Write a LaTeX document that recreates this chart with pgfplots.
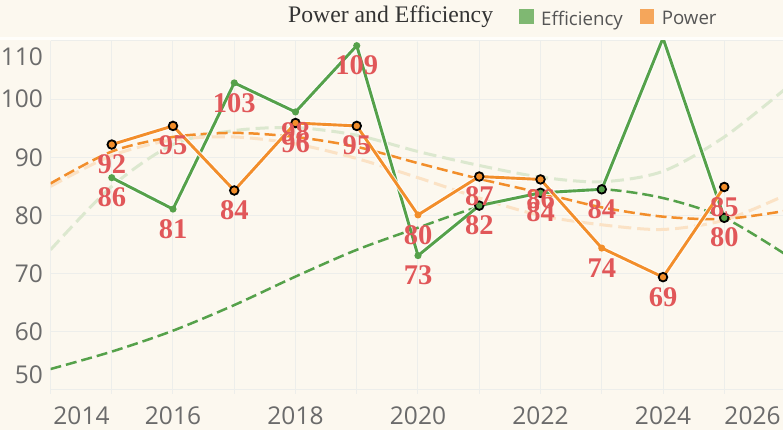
\documentclass[border=0pt]{standalone}
\usepackage{pgfplots}
\usepackage{pgfplotstable}
\pgfplotsset{compat=1.18}
\usepackage{fontspec}
\setmainfont{Liberation Serif}
\newfontfamily\sansf{Open Sans}

\definecolor{bg}{HTML}{FCF8EF}
\definecolor{stripc}{HTML}{FFFEFB}
\definecolor{gridc}{HTML}{EDEEEB}
\definecolor{effc}{HTML}{55A14A}
\definecolor{powc}{HTML}{F28E2B}
\definecolor{efflight}{HTML}{DCE8CF}
\definecolor{powlight}{HTML}{FBE2C5}
\definecolor{labc}{HTML}{E15759}
\definecolor{tickc}{HTML}{6B6B6B}
\definecolor{titlec}{HTML}{333333}
\definecolor{legtc}{HTML}{555555}
\definecolor{leggreen}{HTML}{7FB872}
\definecolor{legorange}{HTML}{F5A65B}

\newcommand\ticklabfont{\sansf\fontsize{24.5}{24.5}\selectfont}
\newcommand\legfont{\sansf\fontsize{18.7}{18.7}\selectfont}
\newcommand\labfont{\bfseries\fontsize{28.5}{28.5}\selectfont}
\newcommand\titfont{\fontsize{23.7}{24}\selectfont}

\pgfplotstableread{
x y lab
2015 86.5 86
2016 81.1 81
2017 102.8 103
2018 97.8 98
2019 109.2 109
2020 73.1 73
2021 81.7 82
2022 83.9 84
2023 84.5 84
2024 110.5 110
2025 79.6 80
}\effdata

\pgfplotstableread{
x y lab
2015 92.2 92
2016 95.4 95
2017 84.3 84
2018 95.9 96
2019 95.4 95
2020 80.1 80
2021 86.7 87
2022 86.2 86
2023 74.4 74
2024 69.4 69
2025 84.9 85
}\powdata

\pgfplotstableread{
x y
2021 81.7
2022 83.9
2023 84.5
2025 79.6
}\effcirc

\pgfplotstableread{
x y
2015 92.2
2016 95.4
2017 84.3
2018 95.9
2019 95.4
2021 86.7
2022 86.2
2024 69.4
2025 84.9
}\powcirc

\pgfplotstableread{
x y
2014 53.6
2015 56.6
2016 60.2
2017 64.6
2018 69.5
2019 74.1
2020 77.9
2021 81.5
2022 83.7
2023 84.5
2024 83.0
2025 79.6
2026 73.3
}\efftrend

\pgfplotstableread{
x y
2014 74.1
2015 85.0
2016 92.2
2017 94.6
2018 95.1
2019 93.8
2020 91.0
2021 88.6
2022 86.6
2023 85.8
2024 87.6
2025 93.5
2026 101.8
}\effloess

\pgfplotstableread{
x y
2014 85.5
2015 91.0
2016 93.5
2017 94.2
2018 93.5
2019 91.8
2020 89.0
2021 86.3
2022 83.9
2023 81.4
2024 79.8
2025 79.4
2026 80.8
}\powtrend

\pgfplotstableread{
x y
2014 85.0
2015 90.3
2016 93.0
2017 93.5
2018 92.3
2019 89.8
2020 86.5
2021 83.0
2022 80.0
2023 78.4
2024 77.6
2025 79.2
2026 83.5
}\powloess

\begin{document}
\begin{tikzpicture}
\useasboundingbox (0pt,0pt) rectangle (783pt,430pt);
\fill[bg] (0pt,0pt) rectangle (783pt,430pt);
\fill[stripc] (0pt,389.5pt) rectangle (783pt,392.5pt);
\begin{axis}[
  at={(50.5pt,40pt)}, anchor=south west,
  scale only axis, width=735pt, height=349pt,
  xmin=2014, xmax=2026, ymin=50, ymax=110,
  axis line style={draw=none},
  xtick={2014,2015,...,2026},
  xticklabels={\hspace*{62pt}2014,,2016,,2018,,2020,,2022,,2024,,2026\hspace*{66pt}},
  ytick={50,60,...,110},
  yticklabels={\raisebox{0pt}[\height][31.6pt]{50},60,70,80,90,100,\raisebox{0pt}[49.5pt][0pt]{110}},
  tick pos=left,
  tick align=outside,
  major tick length=4pt,
  xtick style={draw=gridc, line width=1pt},
  ytick style={draw=none},
  xmajorgrids, ymajorgrids,
  major grid style={draw=gridc, line width=1pt},
  xticklabel style={font=\ticklabfont, text=tickc, inner sep=0pt, anchor=north, yshift=-13pt},
  yticklabel style={font=\ticklabfont, text=tickc, inner sep=0pt, anchor=east, xshift=-3.5pt},
  legend columns=2,
  legend cell align=left,
  legend style={at={(0.6374,1.0663)}, anchor=west, draw=none, fill=none,
    inner sep=0pt, font=\legfont, text=legtc,
    nodes={inner sep=0pt},
    /tikz/every odd column/.append style={column sep=8pt},
    /tikz/every even column/.append style={column sep=17pt}},
  clip=true,
]
\addlegendimage{legend image code/.code={\fill[leggreen] (0pt,-4.3pt) rectangle (13.5pt,9.4pt);}}
\addlegendentry{Efficiency}
\addlegendimage{legend image code/.code={\fill[legorange] (0pt,-4.3pt) rectangle (13.5pt,9.4pt);}}
\addlegendentry{Power}

% trend curves
\addplot[efflight, line width=3pt, dash pattern=on 13pt off 6pt, smooth, no markers] table[x=x,y=y] {\effloess};
\addplot[powlight, line width=3pt, dash pattern=on 13pt off 6pt, smooth, no markers] table[x=x,y=y] {\powloess};
\addplot[powc, line width=2.5pt, dash pattern=on 11pt off 5pt, smooth, no markers] table[x=x,y=y] {\powtrend};
\addplot[effc, line width=2.5pt, dash pattern=on 11pt off 5pt, smooth, no markers] table[x=x,y=y] {\efftrend};

% data lines
\addplot[white, opacity=0.85, line width=5pt, no markers] table[x=x,y=y] {\effdata};
\addplot[effc, line width=2.9pt, mark=*, mark size=2pt, mark options={draw=none, fill=effc}] table[x=x,y=y] {\effdata};
\addplot[white, opacity=0.85, line width=5pt, no markers] table[x=x,y=y] {\powdata};
\addplot[powc, line width=2.9pt, mark=*, mark size=2pt, mark options={draw=none, fill=powc}] table[x=x,y=y] {\powdata};

% highlighted points
\addplot[only marks, mark=*, mark size=4.3pt, mark options={draw=black, line width=1.8pt, fill=effc}] table[x=x,y=y] {\effcirc};
\addplot[only marks, mark=*, mark size=4.3pt, mark options={draw=black, line width=1.8pt, fill=powc}] table[x=x,y=y] {\powcirc};

% labels
\addplot[draw=none, mark=none, nodes near coords, point meta=explicit symbolic,
  skip coords between index={9}{10},
  nodes near coords style={anchor=north, yshift=-10pt, inner sep=0pt, font=\labfont, text=labc}]
  table[x=x,y=y,meta=lab] {\effdata};
\addplot[draw=none, mark=none, nodes near coords, point meta=explicit symbolic,
  nodes near coords style={anchor=north, yshift=-10pt, inner sep=0pt, font=\labfont, text=labc}]
  table[x=x,y=y,meta=lab] {\powdata};
\end{axis}
\node[anchor=base west, font=\titfont, text=titlec, inner sep=0pt] at (288pt,407pt) {Power and Efficiency};
\end{tikzpicture}
\end{document}
